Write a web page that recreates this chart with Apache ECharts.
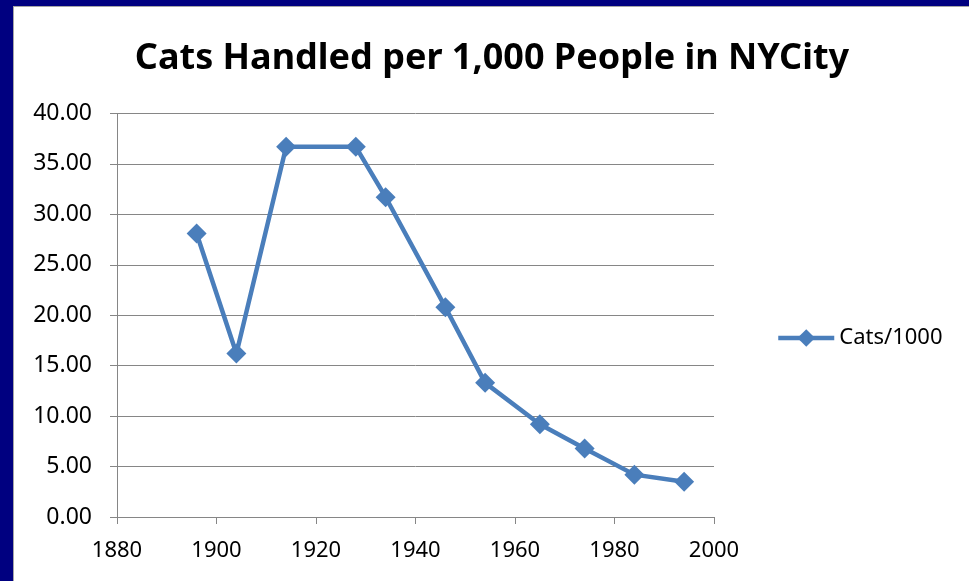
<!DOCTYPE html>
<html>
<head>
<meta charset="utf-8">
<script src="https://cdn.jsdelivr.net/npm/echarts@6/dist/echarts.min.js"></script>
<style>
	html, body {
		margin: 0;
		padding: 0;
		width: 969px;
		height: 581px;
		background: #000080;
		overflow: hidden;
	}
	#chartLineBox {
		position: absolute;
		left: 13px;
		top: 6px;
		width: 956px;
		height: 575px;
		background: #fff;
		border-left: 1px solid #a6a6a6;
		border-top: 1px solid #a6a6a6;
	}
</style>
</head>
<body>
<div id="chartLineBox"></div>
<script>
	// 数据
	var years = [1896, 1904, 1914, 1928, 1934, 1946, 1954, 1965, 1974, 1984, 1994];
	var catsPer1000 = [28.1, 16.2, 36.7, 36.7, 31.7, 20.8, 13.3, 9.2, 6.8, 4.2, 3.5];
	var seriesName = 'Cats/1000';
	var titleText = 'Cats Handled per 1,000 People in NYCity';

	var points = years.map(function (y, i) { return [y, catsPer1000[i]]; });

	var chartLine = echarts.init(document.getElementById('chartLineBox'));
	var font = '"Noto Sans", sans-serif';
	var option = {
		animation: false,
		title: {
			text: titleText,
			left: 'center',
			top: 29,
			textStyle: { fontFamily: font, fontWeight: 'bold', fontSize: 36, color: '#000' }
		},
		legend: { // 图例
			data: [seriesName],
			left: 757,
			top: 315,
			itemWidth: 56,
			itemHeight: 22,
			itemGap: 5,
			lineStyle: { width: 4.5 },
			textStyle: { fontFamily: font, fontSize: 22, color: '#000' }
		},
		grid: {
			left: 103,
			right: 256,
			top: 106.5,
			bottom: 65
		},
		xAxis: {
			type: 'value',
			min: 1880,
			max: 2000,
			interval: 20,
			splitLine: { show: false },
			axisLine: { lineStyle: { color: '#868686', width: 1 } },
			axisTick: { show: true, length: 7, lineStyle: { color: '#868686' } },
			axisLabel: {
				fontFamily: font, fontSize: 22, color: '#000', margin: 23,
				formatter: function (v) { return String(v); }
			}
		},
		yAxis: {
			type: 'value',
			min: 0,
			max: 40,
			interval: 5,
			axisLine: { show: true, lineStyle: { color: '#868686', width: 1 } },
			axisTick: { show: true, length: 7, lineStyle: { color: '#868686' } },
			splitLine: { lineStyle: { color: '#868686', width: 1 } },
			axisLabel: {
				fontFamily: font, fontSize: 23, color: '#000', margin: 25,
				formatter: function (v) { return v.toFixed(2); }
			}
		},
		series: [{
			name: seriesName,
			type: 'line',
			data: points,
			symbol: 'diamond',
			symbolSize: 20,
			lineStyle: { color: '#4a7ebb', width: 4.5 },
			itemStyle: { color: '#4a7ebb' }
		}]
	};
	chartLine.setOption(option);
</script>
</body>
</html>
